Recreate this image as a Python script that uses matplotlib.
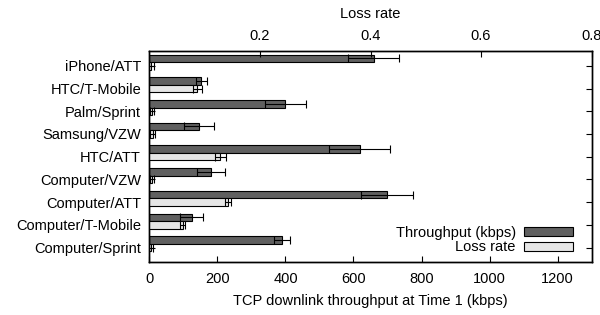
import numpy as np
import matplotlib.pyplot as plt

plt.rcParams['font.family'] = ['Liberation Sans', 'DejaVu Sans']
plt.rcParams['font.size'] = 10.5

devices = ['iPhone/ATT', 'HTC/T-Mobile', 'Palm/Sprint', 'Samsung/VZW', 'HTC/ATT',
           'Computer/VZW', 'Computer/ATT', 'Computer/T-Mobile', 'Computer/Sprint']
throughput = [660, 152, 399, 146, 618, 181, 698, 124, 389]
throughput_err = [75, 16, 60, 43, 90, 42, 76, 33, 24]
loss_rate = [0.003, 0.087, 0.005, 0.006, 0.128, 0.005, 0.142, 0.060, 0.003]
loss_err = [0.005, 0.009, 0.004, 0.005, 0.010, 0.004, 0.006, 0.005, 0.003]

y = np.arange(len(devices))
h = 0.33

fig = plt.figure(figsize=(6, 3.15), dpi=100)
ax = fig.add_axes([0.249, 0.167, 0.737, 0.671])
ax2 = ax.twiny()

b1 = ax.barh(y - h, throughput, height=h, color='#606060', edgecolor='black',
             linewidth=0.8, label='Throughput (kbps)')
ax.errorbar(throughput, y - h, xerr=throughput_err, fmt='none', ecolor='black',
            elinewidth=0.8, capsize=2.8, capthick=0.8)

b2 = ax2.barh(y, loss_rate, height=h, color='#e6e6e6', edgecolor='black',
              linewidth=0.8, label='Loss rate')
ax2.errorbar(loss_rate, y, xerr=loss_err, fmt='none', ecolor='black',
             elinewidth=0.8, capsize=2.8, capthick=0.8)

ax.set_xlim(0, 1300)
ax2.set_xlim(0, 0.8)
ax.set_ylim(len(devices) - 1 + 0.65, -0.65)
ax.set_yticks(y)
ax.set_yticklabels(devices)
ax.set_xticks([0, 200, 400, 600, 800, 1000, 1200])
ax2.set_xticks([0.2, 0.4, 0.6, 0.8])
ax2.set_xticklabels(['0.2', '0.4', '0.6', '0.8'])

ax.tick_params(axis='y', direction='in', right=True, length=4, pad=6)
ax.tick_params(axis='x', direction='in', length=4, pad=7)
ax2.tick_params(axis='x', direction='in', length=4, pad=6)

ax.set_xlabel('TCP downlink throughput at Time 1 (kbps)', labelpad=6)
ax2.set_xlabel('Loss rate', labelpad=8)

for sp in list(ax.spines.values()) + list(ax2.spines.values()):
    sp.set_linewidth(1.0)

ax2.legend([b1, b2], ['Throughput (kbps)', 'Loss rate'], loc='lower right',
           frameon=False, markerfirst=False, handlelength=3.3, handleheight=0.55,
           labelspacing=0.05, borderaxespad=0.0, handletextpad=0.6,
           bbox_to_anchor=(0.97, 0.01))

fig.savefig('out.png', dpi=100)
